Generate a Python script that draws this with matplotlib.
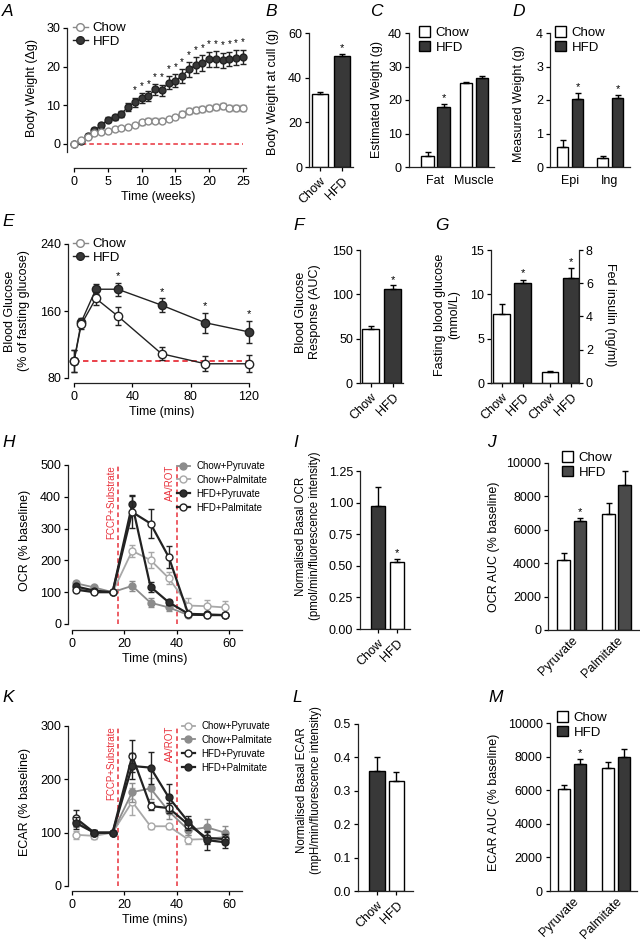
import numpy as np
import matplotlib
matplotlib.use("Agg")
from matplotlib import pyplot as plt
from matplotlib.lines import Line2D
from matplotlib.patches import Patch

plt.rcParams['font.family'] = ['Liberation Sans', 'DejaVu Sans']
plt.rcParams['font.size'] = 9
plt.rcParams['axes.linewidth'] = 0.9
plt.rcParams['axes.edgecolor'] = '#222222'
plt.rcParams['xtick.major.width'] = 0.9
plt.rcParams['ytick.major.width'] = 0.9
plt.rcParams['xtick.major.size'] = 3
plt.rcParams['ytick.major.size'] = 3
plt.rcParams['xtick.major.pad'] = 3
plt.rcParams['ytick.major.pad'] = 2

W, H = 640, 943
DARK = '#383838'
RED = '#e8323c'

# ---- A: body weight gain
weeks = [0, 1, 2, 3, 4, 5, 6, 7, 8, 9, 10, 11, 12, 13, 14, 15, 16, 17, 18, 19, 20, 21, 22, 23, 24, 25]
chow_bw = [0, 1.0, 1.8, 2.8, 3.2, 3.3, 3.8, 4.2, 4.5, 5.0, 5.6, 6.0, 6.0, 6.0, 6.5, 7.0,
           7.8, 8.5, 8.8, 9.0, 9.3, 9.6, 9.8, 9.3, 9.3, 9.3]
chow_bw_err = [0.2, 0.4, 0.4, 0.5, 0.5, 0.5, 0.5, 0.5, 0.5, 0.5, 0.6, 0.6, 0.6, 0.6, 0.6, 0.6,
               0.7, 0.8, 0.8, 0.8, 0.8, 0.8, 0.8, 0.7, 0.7, 0.7]
hfd_bw = [0, 0.7, 2.0, 3.5, 4.8, 6.3, 6.9, 7.8, 9.6, 10.8, 11.9, 12.4, 14.1, 13.9, 15.9, 16.4,
          17.6, 19.3, 20.4, 21.0, 21.9, 22.0, 21.6, 22.0, 22.3, 22.5]
hfd_bw_err = [0.2, 0.4, 0.5, 0.6, 0.6, 0.7, 0.7, 0.8, 1.0, 1.2, 1.3, 1.3, 1.4, 1.4, 1.6, 1.7,
              1.8, 1.9, 2.0, 2.0, 2.0, 2.0, 2.0, 1.9, 1.9, 1.9]
bw_sig_from = 9

# ---- B, C, D
cull_groups = ['Chow', 'HFD']
cull_w = [32.5, 49.5]
cull_err = [1.0, 1.0]
comp_groups = ['Fat', 'Muscle']
comp_chow = [3.2, 25.0]
comp_chow_err = [1.2, 0.5]
comp_hfd = [17.8, 26.5]
comp_hfd_err = [1.0, 0.8]
pad_groups = ['Epi', 'Ing']
pad_chow = [0.6, 0.27]
pad_chow_err = [0.2, 0.05]
pad_hfd = [2.02, 2.05]
pad_hfd_err = [0.18, 0.1]

# ---- E: GTT
gtt_t = [0, 5, 15, 30, 60, 90, 120]
chow_gtt = [100, 144, 175, 154, 109, 97, 97]
chow_gtt_err = [13, 5, 8, 11, 8, 9, 10]
hfd_gtt = [100, 147, 186, 186, 167, 146, 135]
hfd_gtt_err = [13, 5, 6, 8, 8, 12, 13]
gtt_sig = [30, 60, 90, 120]

# ---- F, G
auc_gtt = [61, 106]
auc_gtt_err = [3, 4]
fast_glc = [7.8, 11.3]
fast_glc_err = [1.1, 0.3]
fed_ins = [0.65, 6.3]
fed_ins_err = [0.05, 0.6]

# ---- H, K: seahorse traces
sh_t = [1.5, 8.5, 15.5, 23, 30, 37, 44.5, 51.5, 58.5]
ocr_chow_pyr = [128, 115, 100, 120, 67, 52, 28, 28, 28]
ocr_chow_pyr_err = [8, 6, 0, 15, 15, 12, 5, 5, 5]
ocr_chow_pal = [112, 103, 100, 230, 201, 144, 58, 56, 52]
ocr_chow_pal_err = [8, 5, 0, 20, 25, 18, 25, 20, 20]
ocr_hfd_pyr = [118, 105, 100, 376, 117, 68, 32, 30, 28]
ocr_hfd_pyr_err = [8, 5, 0, 30, 15, 8, 5, 5, 5]
ocr_hfd_pal = [108, 100, 100, 352, 316, 210, 30, 28, 28]
ocr_hfd_pal_err = [8, 5, 0, 50, 45, 35, 5, 5, 5]

ecar_chow_pyr = [96, 94, 100, 158, 112, 112, 87, 88, 92]
ecar_chow_pyr_err = [8, 5, 0, 25, 5, 5, 8, 8, 8]
ecar_chow_pal = [120, 100, 100, 176, 183, 140, 105, 110, 100]
ecar_chow_pal_err = [10, 5, 0, 18, 20, 15, 10, 15, 12]
ecar_hfd_pyr = [127, 100, 100, 244, 150, 146, 115, 90, 88]
ecar_hfd_pyr_err = [15, 5, 0, 30, 8, 10, 10, 12, 10]
ecar_hfd_pal = [118, 100, 100, 225, 222, 166, 120, 86, 82]
ecar_hfd_pal_err = [12, 5, 0, 25, 30, 25, 12, 18, 10]
inject_t = [17.5, 40]
inject_lbl = ['FCCP+Substrate', 'AA/ROT']

# ---- I, J, L, M
basal_ocr = [0.97, 0.53]
basal_ocr_err = [0.15, 0.025]
ocr_auc_groups = ['Pyruvate', 'Palmitate']
ocr_auc_chow = [4200, 6950]
ocr_auc_chow_err = [400, 650]
ocr_auc_hfd = [6500, 8700]
ocr_auc_hfd_err = [200, 800]
basal_ecar = [0.36, 0.33]
basal_ecar_err = [0.04, 0.025]
ecar_auc_chow = [6050, 7350]
ecar_auc_chow_err = [250, 300]
ecar_auc_hfd = [7550, 7950]
ecar_auc_hfd_err = [300, 500]

fig = plt.figure(figsize=(W / 100, H / 100), dpi=100)


def place(xr, yr, xlim, ylim):
    # xr / yr: two (value, pixel) pairs used to map data to figure pixels
    (xa, pa), (xb, pb) = xr
    sx = (pb - pa) / (xb - xa)
    left, right = pa + (xlim[0] - xa) * sx, pa + (xlim[1] - xa) * sx
    (ya, qa), (yb, qb) = yr
    sy = (qb - qa) / (yb - ya)
    bottom, top = qa + (ylim[0] - ya) * sy, qa + (ylim[1] - ya) * sy
    ax = fig.add_axes([left / W, 1 - bottom / H, (right - left) / W, (bottom - top) / H])
    ax.set_xlim(xlim)
    ax.set_ylim(ylim)
    ax.spines['top'].set_visible(False)
    ax.spines['right'].set_visible(False)
    ax.patch.set_alpha(0)
    return ax


def ylab(ax, text, xpx, ypx, axis=None, rot=90, fs=9):
    axis = axis or ax.yaxis
    lab = axis.label
    lab.set_text(text)
    lab.set_rotation(rot)
    lab.set_va('center')
    lab.set_ha('center')
    lab.set_fontsize(fs)
    pos = ax.get_position()
    axis.set_label_coords((xpx / W - pos.x0) / pos.width,
                          ((1 - ypx / H) - pos.y0) / pos.height)


def letter(s, xpx, ypx):
    fig.text(xpx / W, 1 - ypx / H, s, style='italic', fontsize=12.5, ha='left', va='center')


def bars(ax, x, vals, errs, color):
    ax.bar(x, vals, 0.77, color=color, edgecolor='black', linewidth=1, zorder=2)
    ax.errorbar(x, vals, yerr=[np.zeros(len(vals)), errs], fmt='none', ecolor='black',
                elinewidth=1, capsize=2.5, capthick=1, zorder=3)


def star(ax, x, y, off, fs=8):
    ax.text(x, y + off, '*', ha='center', va='bottom', fontsize=fs, clip_on=False)


def trace(ax, x, y, e, mfc, mec, lc, ms, lw, z):
    ax.errorbar(x, y, yerr=e, color=lc, lw=lw, marker='o', ms=ms, mfc=mfc, mec=mec, mew=1,
                ecolor=mec, elinewidth=1, capsize=2.5, capthick=1, zorder=z, clip_on=False)


def bar_legend(ax, xpx, ypx, dark=DARK):
    h = [Patch(facecolor='white', edgecolor='black'), Patch(facecolor=dark, edgecolor='black')]
    ax.legend(h, ['Chow', 'HFD'], loc='upper left', bbox_to_anchor=(xpx / W, 1 - ypx / H),
              bbox_transform=fig.transFigure, frameon=False, handlelength=0.85, handleheight=0.85,
              handletextpad=0.4, labelspacing=0.15, borderpad=0, borderaxespad=0, fontsize=9.5)


def line_legend(ax, xpx, ypx):
    h = [Line2D([], [], color='#888888', marker='o', mfc='white', mec='#888888', ms=5.5, lw=1),
         Line2D([], [], color='#222222', marker='o', mfc=DARK, mec='#222222', ms=5.5, lw=1)]
    ax.legend(h, ['Chow', 'HFD'], loc='upper left', bbox_to_anchor=(xpx / W, 1 - ypx / H),
              bbox_transform=fig.transFigure, frameon=False, handlelength=1.1,
              handletextpad=0.4, labelspacing=0.1, borderpad=0, borderaxespad=0, fontsize=9.5)


def rot_labels(ax, ticks, labels):
    ax.set_xticks(ticks)
    ax.set_xticklabels(labels, rotation=45, ha='right', rotation_mode='anchor')


# ================= A
ax = place(((0, 74), (25, 243)), ((0, 144), (30, 28)), (-1, 26), (-6.2, 30))
ax.spines['left'].set_bounds(-2, 30)
ax.spines['bottom'].set_bounds(0, 25.5)
ax.plot([0, 25], [0, 0], ls=(0, (3, 2)), color=RED, lw=1.1, zorder=1)
trace(ax, weeks, hfd_bw, hfd_bw_err, DARK, '#222222', '#222222', 5, 1, 3)
trace(ax, weeks, chow_bw, chow_bw_err, 'white', '#8a8a8a', '#8a8a8a', 5, 1, 4)
for w, v, e in zip(weeks, hfd_bw, hfd_bw_err):
    if w >= bw_sig_from:
        star(ax, w, v, e + 0.6, fs=7)
ax.set_xticks([0, 5, 10, 15, 20, 25])
ax.set_yticks([0, 10, 20, 30])
ax.set_xlabel('Time (weeks)', labelpad=2)
ylab(ax, 'Body Weight (\u0394g)', 32, 88)
line_legend(ax, 73, 22)
letter('A', 2, 12)

# ================= B
ax = place(((0, 320), (1, 342)), ((0, 167), (60, 33)), (-0.5, 1.5), (0, 60))
bars(ax, [0, 1], cull_w, cull_err, ['white', DARK])
star(ax, 1, cull_w[1], cull_err[1] + 0.6)
ax.set_yticks([0, 20, 40, 60])
rot_labels(ax, [0, 1], cull_groups)
ylab(ax, 'Body Weight at cull (g)', 273, 92)
letter('B', 265, 12)

# ================= C
ax = place(((0, 427.5), (1, 443.5)), ((0, 167), (40, 33)), (-1.16, 4.16), (0, 40))
bars(ax, [0, 2.4], comp_chow, comp_chow_err, 'white')
bars(ax, [1, 3.4], comp_hfd, comp_hfd_err, DARK)
star(ax, 1, comp_hfd[0], comp_hfd_err[0] + 0.4)
ax.set_yticks([0, 10, 20, 30, 40])
ax.set_xticks([0.5, 2.9])
ax.set_xticklabels(comp_groups)
ax.tick_params(axis='x', length=0, pad=6)
ylab(ax, 'Estimated Weight (g)', 377, 100)
bar_legend(ax, 419, 26)
letter('C', 370, 12)

# ================= D
ax = place(((0, 562.5), (1, 577.5)), ((0, 167), (4, 33)), (-0.83, 4.5), (0, 4))
bars(ax, [0, 2.67], pad_chow, pad_chow_err, 'white')
bars(ax, [1, 3.67], pad_hfd, pad_hfd_err, DARK)
for xx, v, e in zip([1, 3.67], pad_hfd, pad_hfd_err):
    star(ax, xx, v, e + 0.04)
ax.set_yticks([0, 1, 2, 3, 4])
ax.set_xticks([0.5, 3.17])
ax.set_xticklabels(pad_groups)
ax.tick_params(axis='x', length=0, pad=6)
ylab(ax, 'Measured Weight (g)', 519, 104)
bar_legend(ax, 555, 26)
letter('D', 512, 12)

# ================= E
ax = place(((0, 74), (120, 249)), ((80, 378), (240, 244)), (-4.1, 124), (74, 240))
ax.spines['left'].set_bounds(80, 240)
ax.spines['bottom'].set_bounds(0, 120)
ax.plot([0, 120], [100, 100], ls=(0, (3, 2)), color=RED, lw=1.3, zorder=1)
trace(ax, gtt_t, hfd_gtt, hfd_gtt_err, DARK, '#222222', '#222222', 6, 1, 3)
trace(ax, gtt_t, chow_gtt, chow_gtt_err, 'white', '#222222', '#222222', 6, 1, 4)
for t, v, e in zip(gtt_t, hfd_gtt, hfd_gtt_err):
    if t in gtt_sig:
        star(ax, t, v, e + 2)
ax.set_xticks([0, 40, 80, 120])
ax.set_yticks([80, 160, 240])
ax.set_xlabel('Time (mins)', labelpad=2)
ylab(ax, 'Blood Glucose\n(% of fasting glucose)', 17, 311)
line_legend(ax, 73, 238)
letter('E', 2, 221)

# ================= F
ax = place(((0, 370.5), (1, 392.5)), ((0, 383), (150, 250)), (-0.48, 1.48), (0, 150))
bars(ax, [0, 1], auc_gtt, auc_gtt_err, ['white', DARK])
star(ax, 1, auc_gtt[1], auc_gtt_err[1] + 1)
ax.set_yticks([0, 50, 100, 150])
rot_labels(ax, [0, 1], cull_groups)
ylab(ax, 'Blood Glucose\nResponse (AUC)', 308, 312)
letter('F', 293, 225)

# ================= G
ax = place(((0, 501.5), (1, 522.5)), ((0, 383), (15, 250)), (-0.5, 3.69), (0, 15))
ax2 = ax.twinx()
ax2.set_ylim(0, 8)
ax2.spines['top'].set_visible(False)
ax2.spines['left'].set_visible(False)
bars(ax, [0, 1], fast_glc, fast_glc_err, ['white', DARK])
bars(ax2, [2.3, 3.3], fed_ins, fed_ins_err, ['white', DARK])
star(ax, 1, fast_glc[1], fast_glc_err[1] + 0.2)
star(ax2, 3.3, fed_ins[1], fed_ins_err[1] + 0.1)
ax.set_yticks([0, 5, 10, 15])
ax2.set_yticks([0, 2, 4, 6, 8])
rot_labels(ax, [0, 1, 2.3, 3.3], cull_groups + cull_groups)
ylab(ax, 'Fasting blood glucose\n(mmol/L)', 447, 315)
ylab(ax2, 'Fed insulin (ng/ml)', 610, 315, rot=270)
letter('G', 435, 225)


# ================= H / K helpers
def seahorse(ax, top, series, lbls, leg_xy):
    ax.spines['left'].set_bounds(0, top)
    ax.spines['bottom'].set_bounds(0, 65)
    for t, lb in zip(inject_t, inject_lbl):
        ax.plot([t, t], [0, top], ls=(0, (3, 2)), color=RED, lw=1.1, zorder=1)
        ax.text(t - 0.7, top, lb, rotation=90, ha='right', va='top', color=RED, fontsize=7)
    handles = []
    for y, e, mfc, mec, lc, lw, z in series:
        trace(ax, sh_t, y, e, mfc, mec, lc, 5, lw, z)
        handles.append(Line2D([], [], color=lc, marker='o', mfc=mfc, mec=mec, ms=5, lw=lw))
    ax.legend(handles, lbls, loc='upper left', bbox_to_anchor=(leg_xy[0] / W, 1 - leg_xy[1] / H),
              bbox_transform=fig.transFigure, frameon=False, handlelength=1.3,
              handletextpad=0.7, labelspacing=0.4, borderpad=0, borderaxespad=0, fontsize=7)
    ax.set_xticks([0, 20, 40, 60])
    ax.set_xlabel('Time (mins)', labelpad=2)


GRAY = '#8c8c8c'
LGRAY = '#a8a8a8'

# ================= H
ax = place(((0, 72), (60, 229)), ((0, 624), (500, 465)), (-1.5, 65), (-19, 500))
seahorse(ax, 500,
         [(ocr_chow_pyr, ocr_chow_pyr_err, GRAY, GRAY, GRAY, 1.3, 3),
          (ocr_chow_pal, ocr_chow_pal_err, 'white', LGRAY, LGRAY, 1.3, 4),
          (ocr_hfd_pyr, ocr_hfd_pyr_err, '#2e2e2e', '#222222', '#222222', 1.6, 5),
          (ocr_hfd_pal, ocr_hfd_pal_err, 'white', '#222222', '#222222', 1.6, 6)],
         ['Chow+Pyruvate', 'Chow+Palmitate', 'HFD+Pyruvate', 'HFD+Palmitate'], (177, 461))
ax.set_yticks([0, 100, 200, 300, 400, 500])
ylab(ax, 'OCR (% baseline)', 25, 540)
letter('H', 2, 442)

# ================= I
ax = place(((0, 378), (1, 397)), ((0, 629), (1.25, 471)), (-0.95, 1.68), (0, 1.25))
bars(ax, [0, 1], basal_ocr, basal_ocr_err, [DARK, 'white'])
star(ax, 1, basal_ocr[1], basal_ocr_err[1] + 0.01)
ax.set_yticks([0, 0.25, 0.5, 0.75, 1.0, 1.25])
ax.set_yticklabels(['0.00', '0.25', '0.50', '0.75', '1.00', '1.25'])
rot_labels(ax, [0, 1], cull_groups)
ylab(ax, 'Normalised Basal OCR\n(pmol/min/fluorescence intensity)', 308, 536, fs=8.3)
letter('I', 293, 442)

# ================= J
ax = place(((0, 563.5), (1, 580)), ((0, 630), (10000, 463)), (-0.94, 4.55), (0, 10000))
bars(ax, [0, 2.73], ocr_auc_chow, ocr_auc_chow_err, 'white')
bars(ax, [1, 3.7], ocr_auc_hfd, ocr_auc_hfd_err, '#4a4a4a')
star(ax, 1, ocr_auc_hfd[0], ocr_auc_hfd_err[0] + 60)
ax.set_yticks([0, 2000, 4000, 6000, 8000, 10000])
rot_labels(ax, [0.5, 3.2], ocr_auc_groups)
ax.tick_params(axis='x', length=0)
ylab(ax, 'OCR AUC (% baseline)', 494, 547)
bar_legend(ax, 562, 451, dark='#4a4a4a')
letter('J', 487, 442)

# ================= K
ax = place(((0, 72), (60, 229)), ((0, 886), (300, 726)), (-1.5, 65), (-9.4, 300))
seahorse(ax, 300,
         [(ecar_chow_pyr, ecar_chow_pyr_err, 'white', LGRAY, LGRAY, 1.3, 3),
          (ecar_chow_pal, ecar_chow_pal_err, GRAY, GRAY, GRAY, 1.3, 4),
          (ecar_hfd_pyr, ecar_hfd_pyr_err, 'white', '#222222', '#222222', 1.6, 5),
          (ecar_hfd_pal, ecar_hfd_pal_err, '#2e2e2e', '#222222', '#222222', 1.6, 6)],
         ['Chow+Pyruvate', 'Chow+Palmitate', 'HFD+Pyruvate', 'HFD+Palmitate'], (182, 721))
ax.set_yticks([0, 100, 200, 300])
ylab(ax, 'ECAR (% baseline)', 25, 802)
letter('K', 2, 698)

# ================= L
ax = place(((0, 377), (1, 396.5)), ((0, 891), (0.5, 724)), (-0.97, 1.85), (0, 0.5))
bars(ax, [0, 1], basal_ecar, basal_ecar_err, [DARK, 'white'])
ax.set_yticks([0, 0.1, 0.2, 0.3, 0.4, 0.5])
ax.set_yticklabels(['0.0', '0.1', '0.2', '0.3', '0.4', '0.5'])
rot_labels(ax, [0, 1], cull_groups)
ylab(ax, 'Normalised Basal ECAR\n(mpH/min/fluorescence intensity)', 309, 790, fs=8.3)
letter('L', 292, 698)

# ================= M
ax = place(((0, 564.3), (1, 580)), ((0, 891), (10000, 723)), (-0.94, 4.6), (0, 10000))
bars(ax, [0, 2.8], ecar_auc_chow, ecar_auc_chow_err, 'white')
bars(ax, [1, 3.8], ecar_auc_hfd, ecar_auc_hfd_err, DARK)
star(ax, 1, ecar_auc_hfd[0], ecar_auc_hfd_err[0] + 60)
ax.set_yticks([0, 2000, 4000, 6000, 8000, 10000])
rot_labels(ax, [0.5, 3.3], ocr_auc_groups)
ax.tick_params(axis='x', length=0)
ylab(ax, 'ECAR AUC (% baseline)', 494, 802)
bar_legend(ax, 557, 711)
letter('M', 488, 698)

fig.savefig('out.png', dpi=100)
